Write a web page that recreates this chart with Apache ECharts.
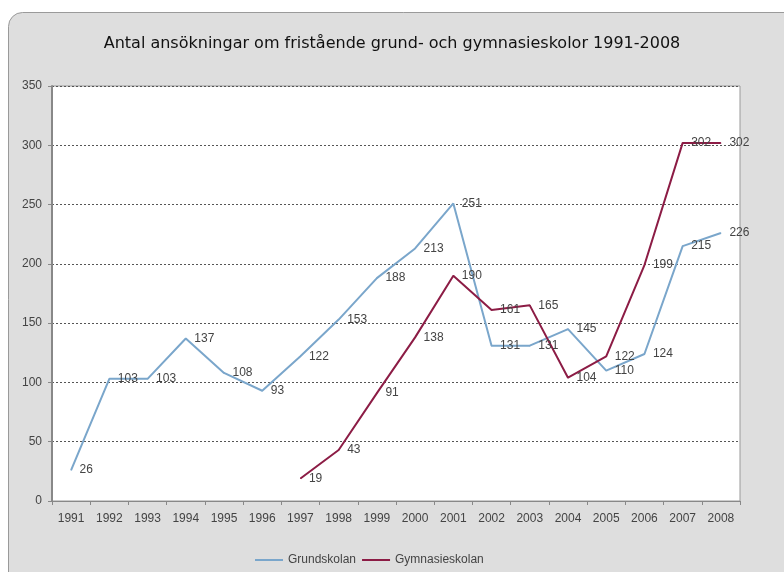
<!DOCTYPE html>
<html><head><meta charset="utf-8">
<script src="https://cdn.jsdelivr.net/npm/echarts@6/dist/echarts.min.js"></script>
<style>html,body{margin:0;padding:0;background:#fff}#c{width:784px;height:572px}</style>
</head><body><div id="c"></div>
<script>
var years = ['1991','1992','1993','1994','1995','1996','1997','1998','1999','2000','2001','2002','2003','2004','2005','2006','2007','2008'];
var grundskolan = [26,103,103,137,108,93,122,153,188,213,251,131,131,145,110,124,215,226];
var gymnasieskolan = [null,null,null,null,null,null,19,43,91,138,190,161,165,104,122,199,302,302];
var yTicks = [0,50,100,150,200,250,300,350];

var chart = echarts.init(document.getElementById('c'));
var lbl = {show:true, position:'right', distance:8, color:'#444', fontFamily:'Liberation Sans, Arial', fontSize:12};
chart.setOption({
  animation:false,
  backgroundColor:'#fff',
  graphic:[{type:'rect', z:-10, shape:{x:8.5,y:12.5,width:800,height:600,r:14}, style:{fill:'#dedede', stroke:'#9a9a9a', lineWidth:1}}],
  title:{text:'Antal ansökningar om fristående grund- och gymnasieskolor 1991-2008', left:'center', top:31,
    textStyle:{fontFamily:'DejaVu Sans, Verdana', fontSize:16, fontWeight:'normal', color:'#111'}},
  legend:{bottom:1, left:250, itemWidth:28, itemHeight:2, itemGap:6, icon:'rect',
    textStyle:{fontFamily:'Liberation Sans, Arial', fontSize:12, color:'#444'},
    data:['Grundskolan','Gymnasieskolan']},
  grid:{left:52, right:44, top:86, bottom:71, show:true, backgroundColor:'#fff', borderColor:'#999', borderWidth:1},
  xAxis:{type:'category', data:years, boundaryGap:true,
    axisLine:{lineStyle:{color:'#888'}}, axisTick:{show:true, lineStyle:{color:'#888'}, length:4},
    axisLabel:{color:'#444', fontFamily:'Liberation Sans, Arial', fontSize:12, margin:12}},
  yAxis:{type:'value', min:0, max:350, interval:50,
    axisLine:{show:true, lineStyle:{color:'#888', width:2}}, axisTick:{show:true, lineStyle:{color:'#888'}, length:4},
    axisLabel:{color:'#444', fontFamily:'Liberation Sans, Arial', fontSize:12, margin:10, formatter:function(v){return yTicks.indexOf(v)>=0?String(v):'';}},
    splitLine:{lineStyle:{color:'#555', type:[2,2], width:1}}},
  series:[
    {name:'Grundskolan', type:'line', data:grundskolan, symbol:'circle', symbolSize:1, showSymbol:true, itemStyle:{color:'#7aa6cb'}, lineStyle:{width:2, color:'#7aa6cb'}, label:lbl, labelLayout:{hideOverlap:false}},
    {name:'Gymnasieskolan', type:'line', data:gymnasieskolan, symbol:'circle', symbolSize:1, showSymbol:true, itemStyle:{color:'#8c1c45'}, lineStyle:{width:2, color:'#8c1c45'}, label:lbl, labelLayout:{hideOverlap:false}}
  ]
});
</script></body></html>
